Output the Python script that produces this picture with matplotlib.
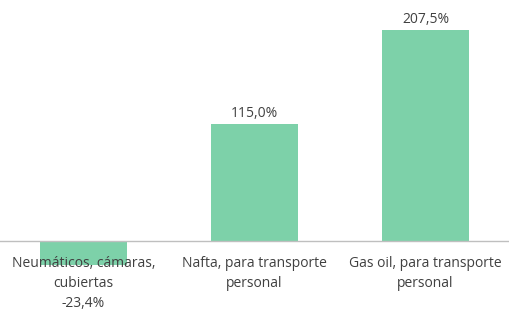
import numpy as np
import matplotlib.pyplot as plt

# Variación de precios por producto
categorias = ["Neumáticos, cámaras,\ncubiertas", "Nafta, para transporte\npersonal", "Gas oil, para transporte\npersonal"]
variacion = [-23.4, 115.0, 207.5]

verde = "#7dd1a9"
gris_texto = "#404040"

plt.rcParams["font.family"] = ["Open Sans", "DejaVu Sans"]

fig = plt.figure(figsize=(5.09, 3.35), dpi=100)
ax = fig.add_axes([0, 0, 1, 1])

x = np.arange(len(categorias))
ax.bar(x, variacion, width=0.51, color=verde, zorder=1)
ax.axhline(0, color="#bfbfbf", linewidth=1, zorder=2)

ax.set_xlim(-0.488, 2.488)
ax.set_ylim(-92.4, 237)
ax.axis("off")

def fmt(v):
    return f"{v:.1f}%".replace(".", ",")

for xi, cat, v in zip(x, categorias, variacion):
    lineas = cat.split("\n")
    if v < 0:
        lineas.append(fmt(v))
    else:
        ax.text(xi, v + 3, fmt(v), ha="center", va="bottom", fontsize=10,
                color=gris_texto)
    for i, linea in enumerate(lineas):
        ax.text(xi, -22.5 - i * 19.3, linea, ha="center", va="center",
                fontsize=10, color=gris_texto, zorder=3)

fig.savefig("out.png", dpi=100)
